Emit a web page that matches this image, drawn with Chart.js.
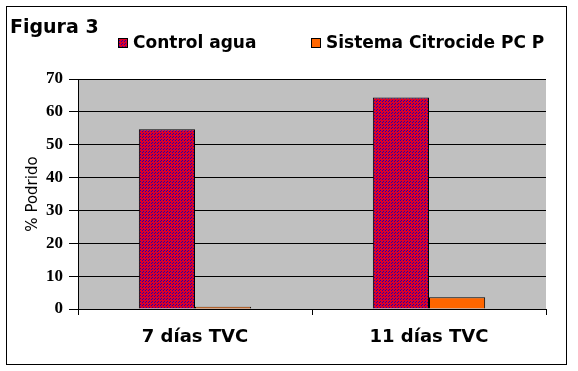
<!DOCTYPE html>
<html>
<head>
<meta charset="utf-8">
<script src="https://cdn.jsdelivr.net/npm/chart.js@4/dist/chart.umd.min.js"></script>
<style>
  body { margin: 0; background: #fff; }
  #wrap { width: 578px; height: 371px; }
</style>
</head>
<body>
<div id="wrap"><canvas id="myChart" width="578" height="371"></canvas></div>
<script>
const categories = ['7 días TVC', '11 días TVC'];
const controlAgua = [54.7, 64.4];
const sistemaCitrocide = [0.7, 3.6];
const seriesNames = ['Control agua', 'Sistema Citrocide PC P'];
const yTicks = [0, 10, 20, 30, 40, 50, 60, 70];

// dotted red/blue fill like the original (red dots on blue)
function makePattern(){
  const p = document.createElement('canvas');
  p.width = 3; p.height = 3;
  const c = p.getContext('2d');
  const img = c.createImageData(3, 3);
  const redPix = [0, 1, 2, 3, 4, 6, 8];
  for (let i = 0; i < 9; i++) {
    const red = redPix.includes(i);
    img.data[i * 4] = red ? 220 : 40;
    img.data[i * 4 + 1] = 0;
    img.data[i * 4 + 2] = red ? 40 : 170;
    img.data[i * 4 + 3] = 255;
  }
  c.putImageData(img, 0, 0);
  return c.createPattern(p, 'repeat');
}
const redFill = makePattern();
const orangeFill = '#ff6600';

const plotBg = {
  id: 'plotBg',
  beforeDraw(chart){
    const {ctx, chartArea: a} = chart;
    ctx.save();
    ctx.fillStyle = '#ffffff';
    ctx.fillRect(0, 0, chart.width, chart.height);
    ctx.fillStyle = '#c0c0c0';
    ctx.fillRect(a.left, a.top, a.right - a.left, a.bottom - a.top);
    ctx.restore();
  },
  afterDraw(chart){
    const ctx = chart.ctx;
    ctx.save();
    // outer frame
    ctx.strokeStyle = '#000';
    ctx.lineWidth = 1;
    ctx.strokeRect(6.5, 6.5, 560, 358);
    // title
    ctx.fillStyle = '#000';
    ctx.textBaseline = 'middle';
    ctx.font = 'bold 19px "DejaVu Sans"';
    ctx.fillText('Figura 3', 10, 28);
    // legend
    const items = [
      {x: 118, fill: redFill, label: seriesNames[0]},
      {x: 311, fill: orangeFill, label: seriesNames[1]}
    ];
    ctx.font = 'bold 17px "DejaVu Sans"';
    items.forEach(it => {
      ctx.fillStyle = it.fill;
      ctx.fillRect(it.x, 38, 10, 10);
      ctx.strokeStyle = '#000';
      ctx.strokeRect(it.x + 0.5, 38.5, 9, 9);
      ctx.fillStyle = '#000';
      ctx.fillText(it.label, it.x + 15, 44);
    });
    ctx.restore();
  }
};

const ctx = document.getElementById('myChart');
const myChart = new Chart(ctx, {
  type: 'bar',
  data: {
    labels: categories,
    datasets: [
      {label: seriesNames[0], data: controlAgua, backgroundColor: redFill, borderColor: '#000', borderWidth: 1},
      {label: seriesNames[1], data: sistemaCitrocide, backgroundColor: orangeFill, borderColor: '#000', borderWidth: 1}
    ]
  },
  options: {
    responsive: false,
    animation: false,
    layout: {padding: {left: 6, top: 79, right: 32, bottom: 0}},
    datasets: {bar: {categoryPercentage: 0.48, barPercentage: 1}},
    plugins: {legend: {display: false}, title: {display: false}, tooltip: {enabled: false}},
    scales: {
      x: {
        offset: true,
        afterFit(s){ s.height = 62; },
        grid: {offset: true, drawOnChartArea: false, drawTicks: true, tickLength: 6, color: '#000'},
        border: {color: '#000', width: 1},
        ticks: {color: '#000', padding: 12, font: {family: '"DejaVu Sans"', weight: 'bold', size: 18}}
      },
      y: {
        min: 0, max: 70,
        afterFit(s){ s.width = 72; },
        afterBuildTicks(s){ s.ticks = yTicks.map(v => ({value: v})); },
        grid: {color: '#000', tickLength: 9, drawTicks: true},
        border: {color: '#000', width: 1},
        ticks: {color: '#000', padding: 6, font: {family: '"Liberation Serif"', weight: 'bold', size: 17}},
        title: {display: true, text: '% Podrido', color: '#000', padding: {top: 18, bottom: 0}, font: {family: '"DejaVu Sans"', size: 15}}
      }
    }
  },
  plugins: [plotBg]
});
</script>
</body>
</html>
